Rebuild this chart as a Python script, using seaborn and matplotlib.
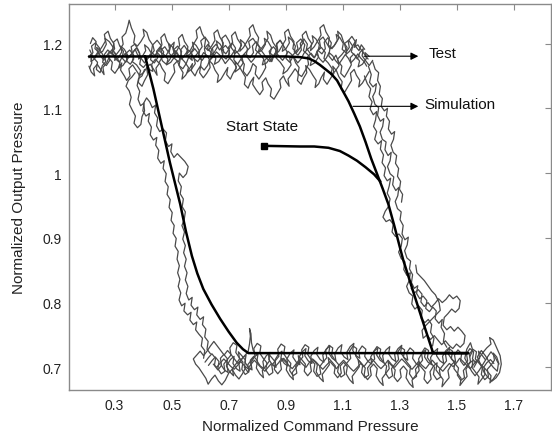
import matplotlib
matplotlib.use("Agg")
import matplotlib.pyplot as plt
import seaborn as sns
import pandas as pd

# ---------------- data ----------------
# Simulation loop (black curve): upper flat -> right branch -> bottom flat -> left branch
sim_x = [0.21, 0.90, 0.95, 0.98, 1.00, 1.02, 1.04, 1.06, 1.08, 1.10, 1.12, 1.14, 1.16, 1.18,
         1.20, 1.22, 1.24, 1.26, 1.28, 1.30, 1.312, 1.35, 1.38, 1.40, 1.417, 1.54,
         0.769, 0.75, 0.728, 0.70, 0.67, 0.64, 0.611, 0.59, 0.571, 0.55, 0.53, 0.494,
         0.465, 0.436, 0.407]
sim_y = [1.180, 1.180, 1.179, 1.177, 1.173, 1.167, 1.160, 1.153, 1.143, 1.127, 1.111, 1.092,
         1.072, 1.048, 1.022, 0.999, 0.976, 0.952, 0.920, 0.886, 0.866, 0.813, 0.772, 0.745,
         0.722, 0.722, 0.722, 0.728, 0.738, 0.755, 0.775, 0.797, 0.821, 0.845, 0.872, 0.910,
         0.952, 1.016, 1.073, 1.130, 1.180]

# Start-state curve
start_x = [0.824, 0.95, 1.00, 1.05, 1.09, 1.12, 1.15, 1.18, 1.21, 1.232]
start_y = [1.042, 1.041, 1.041, 1.039, 1.034, 1.027, 1.019, 1.009, 0.998, 0.987]

# Test traces (grey), (x, y) pairs
test_ua = [(0.210,1.178),(0.224,1.186),(0.219,1.196),(0.233,1.201),(0.247,1.193),(0.243,1.184),(0.258,1.188),(0.271,1.199),(0.266,1.208),(0.281,1.203),(0.295,1.194),(0.290,1.186),(0.305,1.179),(0.319,1.171),(0.314,1.162),(0.329,1.166),(0.343,1.175),(0.338,1.184),(0.353,1.190),(0.367,1.182),(0.362,1.172),(0.377,1.167),(0.391,1.158),(0.386,1.150),(0.401,1.155),(0.415,1.164),(0.410,1.174),(0.425,1.181),(0.439,1.189),(0.434,1.198),(0.449,1.205),(0.463,1.197),(0.458,1.188),(0.473,1.183),(0.487,1.176),(0.482,1.167),(0.497,1.171),(0.511,1.180),(0.506,1.190),(0.521,1.196),(0.535,1.188),(0.530,1.179),(0.545,1.172),(0.559,1.163),(0.554,1.155),(0.569,1.160),(0.583,1.169),(0.578,1.178),(0.593,1.186),(0.607,1.195),(0.602,1.204),(0.617,1.210),(0.631,1.201),(0.626,1.192),(0.641,1.185),(0.655,1.177),(0.650,1.168),(0.665,1.172),(0.679,1.182),(0.674,1.191),(0.689,1.197),(0.703,1.189),(0.698,1.180),(0.713,1.173),(0.727,1.164),(0.722,1.156),(0.737,1.161),(0.751,1.170),(0.746,1.180),(0.761,1.187),(0.775,1.194),(0.770,1.203),(0.785,1.208),(0.799,1.199),(0.794,1.190),(0.809,1.184),(0.823,1.176),(0.818,1.167),(0.833,1.170),(0.847,1.179),(0.842,1.188),(0.857,1.195),(0.871,1.187),(0.866,1.178),(0.881,1.171),(0.895,1.162),(0.890,1.153),(0.905,1.158),(0.919,1.167),(0.914,1.177),(0.929,1.184),(0.943,1.192),(0.938,1.201),(0.953,1.207),(0.967,1.198),(0.962,1.189),(0.977,1.183),(0.991,1.175),(0.986,1.166),(1.001,1.170),(1.015,1.179),(1.010,1.188),(1.025,1.194),(1.039,1.186),(1.034,1.177),(1.049,1.170),(1.063,1.161),(1.058,1.152),(1.073,1.157),(1.087,1.166),(1.082,1.176),(1.097,1.183),(1.111,1.191),(1.106,1.200),(1.121,1.205),(1.135,1.196),(1.130,1.187),(1.145,1.181),(1.159,1.173),(1.154,1.164),(1.169,1.168),(1.183,1.177),(1.178,1.186),(1.193,1.180)]
test_ub = [(0.212,1.162),(0.220,1.170),(0.216,1.181),(0.228,1.177),(0.240,1.171),(0.236,1.160),(0.249,1.155),(0.257,1.166),(0.269,1.172),(0.264,1.183),(0.276,1.190),(0.289,1.184),(0.300,1.192),(0.296,1.202),(0.309,1.207),(0.318,1.196),(0.331,1.188),(0.326,1.178),(0.339,1.171),(0.350,1.180),(0.362,1.185),(0.358,1.195),(0.371,1.199),(0.383,1.190),(0.392,1.178),(0.388,1.168),(0.401,1.163),(0.414,1.170),(0.421,1.160),(0.434,1.157),(0.430,1.168),(0.443,1.176),(0.455,1.170),(0.467,1.179),(0.463,1.190),(0.476,1.195),(0.488,1.187),(0.497,1.196),(0.509,1.202),(0.505,1.191),(0.518,1.184),(0.530,1.176),(0.526,1.166),(0.539,1.161),(0.551,1.169),(0.560,1.179),(0.572,1.174),(0.568,1.185),(0.581,1.192),(0.593,1.185),(0.605,1.175),(0.601,1.165),(0.614,1.159),(0.626,1.166),(0.635,1.176),(0.647,1.182),(0.643,1.193),(0.656,1.199),(0.668,1.190),(0.680,1.197),(0.676,1.208),(0.689,1.213),(0.701,1.204),(0.710,1.193),(0.722,1.186),(0.718,1.175),(0.731,1.168),(0.743,1.176),(0.755,1.168),(0.751,1.157),(0.764,1.150),(0.776,1.158),(0.785,1.169),(0.797,1.164),(0.793,1.153),(0.806,1.145),(0.818,1.153),(0.830,1.163),(0.826,1.174),(0.839,1.180),(0.851,1.172),(0.860,1.183),(0.872,1.190),(0.868,1.200),(0.881,1.205),(0.893,1.196),(0.905,1.187),(0.901,1.177),(0.914,1.171),(0.926,1.180),(0.935,1.170),(0.947,1.163),(0.943,1.153),(0.956,1.149),(0.968,1.158),(0.980,1.168),(0.976,1.179),(0.989,1.185),(1.001,1.178),(1.010,1.188),(1.022,1.195),(1.018,1.205),(1.031,1.210),(1.043,1.201),(1.055,1.192),(1.051,1.181),(1.064,1.174),(1.076,1.182),(1.085,1.172),(1.097,1.165),(1.093,1.154),(1.106,1.148),(1.118,1.157),(1.130,1.167),(1.126,1.178),(1.139,1.184),(1.151,1.176),(1.160,1.186),(1.172,1.192),(1.168,1.181),(1.181,1.173),(1.193,1.166),(1.205,1.174)]
test_uc = [(0.215,1.200),(0.223,1.209),(0.235,1.203),(0.231,1.192),(0.244,1.187),(0.256,1.195),(0.268,1.204),(0.264,1.214),(0.277,1.219),(0.285,1.208),(0.297,1.200),(0.293,1.189),(0.306,1.183),(0.318,1.190),(0.330,1.199),(0.326,1.210),(0.339,1.216),(0.347,1.228),(0.351,1.236),(0.359,1.224),(0.371,1.212),(0.367,1.201),(0.380,1.196),(0.392,1.203),(0.404,1.212),(0.400,1.222),(0.413,1.217),(0.421,1.206),(0.433,1.198),(0.429,1.187),(0.442,1.181),(0.454,1.189),(0.466,1.198),(0.462,1.209),(0.475,1.215),(0.483,1.204),(0.495,1.196),(0.491,1.185),(0.504,1.179),(0.516,1.187),(0.528,1.197),(0.524,1.208),(0.537,1.214),(0.545,1.203),(0.557,1.195),(0.553,1.184),(0.566,1.190),(0.578,1.200),(0.590,1.209),(0.586,1.220),(0.599,1.226),(0.607,1.215),(0.619,1.206),(0.615,1.195),(0.628,1.189),(0.640,1.196),(0.652,1.205),(0.648,1.216),(0.661,1.221),(0.669,1.210),(0.681,1.201),(0.677,1.190),(0.690,1.184),(0.702,1.192),(0.714,1.201),(0.710,1.212),(0.723,1.218),(0.731,1.207),(0.743,1.199),(0.739,1.188),(0.752,1.194),(0.764,1.203),(0.776,1.212),(0.772,1.223),(0.785,1.229),(0.793,1.218),(0.805,1.209),(0.801,1.198),(0.814,1.192),(0.826,1.199),(0.838,1.208),(0.834,1.219),(0.847,1.213),(0.855,1.202),(0.867,1.194),(0.863,1.183),(0.876,1.188),(0.888,1.197),(0.900,1.206),(0.896,1.217),(0.909,1.222),(0.917,1.211),(0.929,1.203),(0.925,1.192),(0.938,1.186),(0.950,1.193),(0.962,1.202),(0.958,1.213),(0.971,1.219),(0.979,1.208),(0.991,1.200),(0.987,1.189),(1.000,1.195),(1.012,1.204),(1.024,1.213),(1.020,1.224),(1.033,1.229),(1.041,1.218),(1.053,1.209),(1.049,1.198),(1.062,1.192),(1.074,1.199),(1.086,1.208),(1.082,1.219),(1.095,1.213),(1.103,1.202),(1.115,1.194),(1.111,1.183),(1.124,1.188),(1.136,1.197),(1.148,1.206),(1.144,1.196),(1.157,1.189),(1.165,1.198),(1.177,1.191)]
test_ud = [(0.210,1.165),(0.218,1.156),(0.230,1.150),(0.226,1.161),(0.239,1.168),(0.251,1.160),(0.263,1.152),(0.259,1.163),(0.272,1.170),(0.280,1.178),(0.292,1.171),(0.288,1.160),(0.301,1.154),(0.313,1.162),(0.325,1.170),(0.321,1.159),(0.334,1.150),(0.342,1.143),(0.354,1.150),(0.350,1.161),(0.363,1.167),(0.375,1.159),(0.387,1.151),(0.383,1.140),(0.396,1.134),(0.404,1.142),(0.416,1.152),(0.412,1.163),(0.425,1.168),(0.437,1.160),(0.449,1.151),(0.445,1.162),(0.458,1.170),(0.466,1.162),(0.478,1.154),(0.474,1.143),(0.487,1.138),(0.499,1.147),(0.511,1.156),(0.507,1.167),(0.520,1.173),(0.528,1.164),(0.540,1.155),(0.536,1.145),(0.549,1.151),(0.561,1.160),(0.573,1.169),(0.569,1.158),(0.582,1.150),(0.590,1.158),(0.602,1.166),(0.598,1.155),(0.611,1.147),(0.623,1.154),(0.635,1.163),(0.631,1.174),(0.644,1.168),(0.652,1.159),(0.664,1.151),(0.660,1.140),(0.673,1.145),(0.685,1.154),(0.697,1.163),(0.693,1.152),(0.706,1.145),(0.714,1.153),(0.726,1.162),(0.722,1.172),(0.735,1.166),(0.747,1.157),(0.759,1.148),(0.755,1.137),(0.768,1.131),(0.776,1.140),(0.788,1.148),(0.784,1.137),(0.797,1.128),(0.809,1.121),(0.821,1.129),(0.817,1.140),(0.830,1.147),(0.838,1.138),(0.850,1.130),(0.846,1.119),(0.859,1.114),(0.871,1.123),(0.883,1.132),(0.879,1.143),(0.892,1.150),(0.900,1.142),(0.912,1.134),(0.908,1.145),(0.921,1.153),(0.933,1.161),(0.945,1.154),(0.941,1.143),(0.954,1.137),(0.962,1.146),(0.974,1.155),(0.970,1.166),(0.983,1.160),(0.995,1.151),(1.007,1.143),(1.003,1.132),(1.016,1.138),(1.024,1.147),(1.036,1.156),(1.032,1.145),(1.045,1.137),(1.057,1.146),(1.069,1.154),(1.065,1.165),(1.078,1.158),(1.086,1.149),(1.098,1.141),(1.094,1.130),(1.107,1.125),(1.119,1.134),(1.131,1.143),(1.127,1.154),(1.140,1.160),(1.148,1.151),(1.160,1.143),(1.156,1.133),(1.169,1.139),(1.181,1.148),(1.193,1.157)]
test_ue = [(0.213,1.190),(0.221,1.182),(0.217,1.172),(0.229,1.176),(0.241,1.185),(0.237,1.194),(0.250,1.189),(0.262,1.180),(0.258,1.171),(0.271,1.166),(0.283,1.174),(0.279,1.184),(0.292,1.191),(0.304,1.183),(0.300,1.174),(0.313,1.178),(0.325,1.187),(0.321,1.196),(0.334,1.191),(0.346,1.182),(0.342,1.173),(0.355,1.168),(0.367,1.176),(0.363,1.186),(0.376,1.193),(0.388,1.185),(0.384,1.176),(0.397,1.180),(0.409,1.189),(0.405,1.198),(0.418,1.193),(0.430,1.184),(0.426,1.175),(0.439,1.170),(0.451,1.178),(0.447,1.188),(0.460,1.195),(0.472,1.187),(0.468,1.178),(0.481,1.182),(0.493,1.191),(0.489,1.200),(0.502,1.195),(0.514,1.186),(0.510,1.177),(0.523,1.172),(0.535,1.180),(0.531,1.190),(0.544,1.197),(0.556,1.189),(0.552,1.180),(0.565,1.184),(0.577,1.193),(0.573,1.202),(0.586,1.197),(0.598,1.188),(0.594,1.179),(0.607,1.174),(0.619,1.182),(0.615,1.192),(0.628,1.199),(0.640,1.191),(0.636,1.182),(0.649,1.186),(0.661,1.195),(0.657,1.204),(0.670,1.199),(0.682,1.190),(0.678,1.181),(0.691,1.176),(0.703,1.184),(0.699,1.194),(0.712,1.201),(0.724,1.193),(0.720,1.184),(0.733,1.188),(0.745,1.197),(0.741,1.206),(0.754,1.201),(0.766,1.192),(0.762,1.183),(0.775,1.178),(0.787,1.186),(0.783,1.196),(0.796,1.203),(0.808,1.195),(0.804,1.186),(0.817,1.190),(0.829,1.199),(0.825,1.208),(0.838,1.203),(0.850,1.194),(0.846,1.185),(0.859,1.180),(0.871,1.188),(0.867,1.198),(0.880,1.205),(0.892,1.197),(0.888,1.188),(0.901,1.192),(0.913,1.201),(0.909,1.210),(0.922,1.205),(0.934,1.196),(0.930,1.187),(0.943,1.182),(0.955,1.190),(0.951,1.200),(0.964,1.207),(0.976,1.199),(0.972,1.190),(0.985,1.194),(0.997,1.203),(0.993,1.212),(1.006,1.207),(1.018,1.198),(1.014,1.189),(1.027,1.184),(1.039,1.192),(1.035,1.202),(1.048,1.209),(1.060,1.201),(1.056,1.192),(1.069,1.196),(1.081,1.205),(1.077,1.214),(1.090,1.209),(1.102,1.200),(1.098,1.191),(1.111,1.186),(1.123,1.194),(1.119,1.204),(1.132,1.211),(1.144,1.203),(1.140,1.194),(1.153,1.198),(1.165,1.190),(1.177,1.183),(1.189,1.176)]
test_uf = [(0.215,1.183),(0.228,1.178),(0.240,1.186),(0.251,1.181),(0.262,1.174),(0.270,1.180),(0.283,1.188),(0.295,1.182),(0.304,1.176),(0.317,1.171),(0.326,1.179),(0.338,1.185),(0.349,1.178),(0.361,1.184),(0.372,1.191),(0.380,1.183),(0.393,1.177),(0.405,1.170),(0.414,1.176),(0.426,1.184),(0.437,1.179),(0.449,1.186),(0.460,1.181),(0.468,1.173),(0.481,1.168),(0.493,1.175),(0.502,1.183),(0.515,1.189),(0.524,1.182),(0.536,1.176),(0.547,1.183),(0.559,1.190),(0.570,1.185),(0.578,1.177),(0.591,1.172),(0.603,1.179),(0.612,1.186),(0.625,1.181),(0.634,1.174),(0.646,1.180),(0.657,1.187),(0.669,1.182),(0.680,1.175),(0.688,1.169),(0.701,1.176),(0.713,1.184),(0.722,1.190),(0.735,1.184),(0.744,1.177),(0.756,1.183),(0.767,1.178),(0.779,1.171),(0.790,1.177),(0.798,1.185),(0.811,1.191),(0.823,1.184),(0.832,1.178),(0.845,1.172),(0.854,1.179),(0.866,1.186),(0.877,1.180),(0.889,1.174),(0.900,1.181),(0.908,1.188),(0.921,1.183),(0.933,1.176),(0.942,1.170),(0.955,1.177),(0.964,1.185),(0.976,1.191),(0.987,1.184),(0.999,1.178),(1.010,1.184),(1.018,1.177),(1.031,1.171),(1.043,1.178),(1.052,1.186),(1.065,1.181),(1.074,1.174),(1.086,1.168),(1.097,1.175),(1.109,1.183),(1.120,1.177),(1.128,1.170),(1.141,1.176),(1.153,1.184),(1.162,1.178),(1.175,1.172),(1.184,1.165)]

test_r1 = [(1.190,1.165),(1.200,1.152),(1.194,1.140),(1.206,1.133),(1.218,1.138),(1.214,1.126),(1.205,1.118),(1.213,1.106),(1.226,1.101),(1.222,1.089),(1.232,1.080),(1.244,1.084),(1.240,1.072),(1.231,1.063),(1.239,1.052),(1.252,1.048),(1.248,1.036),(1.259,1.027),(1.270,1.032),(1.266,1.019),(1.257,1.010),(1.266,0.999),(1.279,0.994),(1.275,0.982),(1.286,0.973),(1.297,0.978),(1.293,0.965),(1.284,0.956),(1.292,0.945),(1.305,0.940),(1.301,0.928),(1.312,0.919),(1.308,0.906),(1.318,0.897),(1.330,0.901),(1.326,0.889),(1.317,0.880),(1.325,0.869),(1.338,0.864),(1.334,0.852),(1.345,0.843),(1.341,0.831),(1.351,0.822),(1.363,0.826),(1.359,0.814),(1.370,0.806),(1.382,0.810),(1.395,0.803),(1.391,0.791),(1.404,0.786),(1.416,0.793),(1.428,0.787),(1.424,0.775),(1.437,0.768),(1.449,0.774),(1.445,0.762),(1.457,0.752),(1.453,0.740),(1.465,0.731)]
test_r2 = [(1.176,1.150),(1.186,1.138),(1.198,1.130),(1.192,1.118),(1.203,1.110),(1.196,1.099),(1.207,1.090),(1.219,1.095),(1.215,1.082),(1.208,1.072),(1.219,1.064),(1.212,1.052),(1.224,1.045),(1.236,1.050),(1.232,1.037),(1.243,1.028),(1.238,1.016),(1.250,1.008),(1.245,0.996),(1.256,0.988),(1.268,0.992),(1.263,0.980),(1.256,0.969),(1.266,0.960),(1.260,0.948),(1.249,0.941),(1.241,0.932),(1.252,0.925),(1.265,0.928),(1.277,0.921),(1.273,0.909),(1.285,0.902),(1.297,0.906),(1.309,0.899),(1.305,0.887),(1.296,0.878),(1.305,0.868),(1.318,0.863),(1.314,0.851),(1.325,0.842),(1.337,0.846),(1.333,0.834),(1.324,0.825),(1.333,0.815),(1.346,0.810),(1.342,0.798),(1.353,0.790),(1.366,0.795),(1.379,0.788),(1.375,0.776),(1.388,0.769),(1.400,0.774),(1.412,0.766),(1.408,0.754),(1.420,0.745),(1.415,0.733)]
test_r3 = [(1.340,0.822),(1.352,0.815),(1.365,0.820),(1.378,0.813),(1.374,0.801),(1.386,0.794),(1.399,0.800),(1.411,0.793),(1.424,0.799),(1.436,0.806),(1.449,0.800),(1.462,0.805),(1.474,0.812),(1.487,0.806),(1.500,0.810),(1.512,0.803),(1.508,0.791),(1.495,0.785),(1.482,0.790),(1.469,0.783),(1.456,0.777),(1.452,0.765),(1.465,0.758),(1.478,0.763),(1.491,0.756),(1.504,0.762),(1.517,0.756),(1.529,0.749),(1.525,0.737),(1.512,0.731),(1.499,0.736),(1.486,0.729),(1.473,0.734),(1.460,0.741),(1.447,0.735),(1.434,0.742),(1.421,0.749),(1.408,0.743),(1.395,0.750),(1.382,0.745),(1.378,0.757),(1.390,0.764),(1.403,0.770),(1.416,0.776),(1.429,0.782),(1.442,0.788),(1.438,0.800),(1.425,0.812),(1.412,0.818),(1.399,0.826),(1.386,0.834),(1.373,0.840),(1.360,0.846),(1.356,0.858)]
test_r4 = [(1.205,1.172),(1.214,1.160),(1.226,1.155),(1.222,1.143),(1.232,1.134),(1.228,1.122),(1.239,1.115),(1.235,1.103),(1.246,1.096),(1.257,1.100),(1.253,1.088),(1.264,1.080),(1.260,1.068),(1.271,1.060),(1.282,1.064),(1.278,1.052),(1.269,1.043),(1.277,1.032),(1.289,1.027),(1.285,1.015),(1.296,1.007),(1.292,0.995),(1.303,0.987),(1.299,0.975),(1.310,0.967),(1.306,0.955)]

test_l1 = [(0.405,1.160),(0.396,1.150),(0.384,1.146),(0.379,1.135),(0.388,1.126),(0.382,1.114),(0.391,1.104),(0.403,1.108),(0.399,1.096),(0.410,1.088),(0.422,1.092),(0.418,1.080),(0.429,1.071),(0.425,1.059),(0.436,1.051),(0.448,1.055),(0.444,1.043),(0.455,1.035),(0.451,1.023),(0.462,1.015),(0.474,1.019),(0.470,1.007),(0.481,0.999),(0.477,0.987),(0.488,0.979),(0.484,0.967),(0.495,0.959),(0.491,0.947),(0.502,0.939),(0.498,0.927),(0.509,0.919),(0.505,0.907),(0.516,0.899),(0.512,0.887),(0.523,0.879),(0.519,0.867),(0.527,0.857),(0.521,0.846),(0.529,0.836),(0.523,0.825),(0.532,0.815),(0.526,0.804),(0.535,0.795),(0.547,0.799),(0.543,0.787),(0.556,0.781),(0.568,0.785),(0.564,0.773),(0.576,0.766),(0.588,0.770),(0.584,0.758),(0.596,0.751),(0.608,0.745),(0.604,0.733),(0.616,0.726),(0.612,0.714)]
test_l2 = [(0.372,1.155),(0.360,1.148),(0.348,1.143),(0.340,1.134),(0.351,1.127),(0.358,1.117),(0.352,1.106),(0.362,1.097),(0.373,1.088),(0.368,1.077),(0.380,1.070),(0.392,1.075),(0.396,1.087),(0.405,1.096),(0.402,1.108),(0.412,1.116),(0.423,1.110),(0.432,1.101),(0.444,1.105),(0.440,1.093),(0.451,1.085),(0.447,1.073),(0.458,1.064),(0.470,1.068),(0.482,1.062),(0.478,1.050),(0.489,1.041),(0.501,1.045),(0.497,1.033),(0.508,1.024),(0.520,1.030),(0.533,1.024),(0.546,1.018),(0.558,1.010),(0.552,0.999),(0.540,0.993),(0.527,1.000),(0.523,0.988),(0.534,0.979),(0.530,0.968),(0.541,0.960),(0.537,0.948),(0.548,0.940),(0.544,0.928),(0.536,0.919),(0.545,0.909),(0.539,0.898),(0.548,0.888),(0.542,0.877),(0.551,0.867),(0.545,0.856),(0.554,0.846),(0.548,0.835),(0.557,0.825),(0.551,0.814),(0.560,0.804),(0.572,0.808),(0.568,0.796),(0.580,0.789),(0.592,0.793),(0.588,0.781),(0.600,0.774),(0.612,0.778),(0.608,0.766),(0.620,0.759),(0.616,0.747),(0.628,0.740),(0.624,0.728),(0.636,0.721)]

test_ba = [(1.648,0.705),(1.640,0.716),(1.628,0.722),(1.632,0.711),(1.619,0.703),(1.607,0.697),(1.611,0.686),(1.598,0.681),(1.586,0.689),(1.590,0.700),(1.577,0.707),(1.565,0.713),(1.569,0.724),(1.556,0.728),(1.544,0.720),(1.548,0.709),(1.535,0.702),(1.523,0.695),(1.527,0.684),(1.514,0.680),(1.502,0.688),(1.506,0.699),(1.493,0.706),(1.481,0.714),(1.485,0.725),(1.472,0.729),(1.460,0.721),(1.464,0.710),(1.451,0.703),(1.439,0.696),(1.443,0.685),(1.430,0.681),(1.418,0.689),(1.422,0.700),(1.409,0.707),(1.397,0.715),(1.401,0.726),(1.388,0.730),(1.376,0.722),(1.380,0.711),(1.367,0.704),(1.355,0.697),(1.359,0.686),(1.346,0.682),(1.334,0.690),(1.338,0.701),(1.325,0.708),(1.313,0.716),(1.317,0.727),(1.304,0.731),(1.292,0.723),(1.296,0.712),(1.283,0.705),(1.271,0.698),(1.275,0.687),(1.262,0.683),(1.250,0.691),(1.254,0.702),(1.241,0.709),(1.229,0.717),(1.233,0.728),(1.220,0.732),(1.208,0.724),(1.212,0.713),(1.199,0.706),(1.187,0.699),(1.191,0.688),(1.178,0.684),(1.166,0.692),(1.170,0.703),(1.157,0.710),(1.145,0.718),(1.149,0.729),(1.136,0.733),(1.124,0.725),(1.128,0.714),(1.115,0.707),(1.103,0.700),(1.107,0.689),(1.094,0.685),(1.082,0.693),(1.086,0.704),(1.073,0.711),(1.061,0.719),(1.065,0.730),(1.052,0.734),(1.040,0.726),(1.044,0.715),(1.031,0.708),(1.019,0.701),(1.023,0.690),(1.010,0.686),(0.998,0.694),(1.002,0.705),(0.989,0.712),(0.977,0.720),(0.981,0.731),(0.968,0.735),(0.956,0.727),(0.960,0.716),(0.947,0.709),(0.935,0.702),(0.939,0.691),(0.926,0.687),(0.914,0.695),(0.918,0.706),(0.905,0.713),(0.893,0.721),(0.897,0.732),(0.884,0.736),(0.872,0.728),(0.876,0.717),(0.863,0.710),(0.851,0.703),(0.855,0.692),(0.842,0.688),(0.830,0.696),(0.834,0.707),(0.821,0.714),(0.809,0.722),(0.813,0.733),(0.800,0.737),(0.788,0.729),(0.792,0.718),(0.779,0.711),(0.767,0.704),(0.771,0.693),(0.758,0.689),(0.746,0.697),(0.750,0.708),(0.737,0.715),(0.725,0.723),(0.729,0.734),(0.716,0.738),(0.704,0.730),(0.708,0.719),(0.695,0.712),(0.683,0.705),(0.687,0.694),(0.674,0.690),(0.662,0.698),(0.666,0.709),(0.653,0.716),(0.641,0.710),(0.629,0.703)]
test_bb = [(1.640,0.690),(1.628,0.682),(1.616,0.676),(1.620,0.687),(1.607,0.694),(1.595,0.700),(1.599,0.689),(1.586,0.681),(1.574,0.674),(1.578,0.685),(1.565,0.693),(1.553,0.700),(1.557,0.711),(1.544,0.706),(1.532,0.697),(1.536,0.686),(1.523,0.679),(1.511,0.672),(1.515,0.683),(1.502,0.691),(1.490,0.698),(1.494,0.709),(1.481,0.704),(1.469,0.695),(1.473,0.684),(1.460,0.677),(1.448,0.670),(1.452,0.681),(1.439,0.689),(1.427,0.696),(1.431,0.707),(1.418,0.702),(1.406,0.693),(1.410,0.682),(1.397,0.675),(1.385,0.682),(1.389,0.693),(1.376,0.700),(1.364,0.706),(1.368,0.695),(1.355,0.687),(1.343,0.680),(1.347,0.669),(1.334,0.675),(1.322,0.684),(1.326,0.695),(1.313,0.702),(1.301,0.696),(1.305,0.685),(1.292,0.678),(1.280,0.685),(1.284,0.696),(1.271,0.703),(1.259,0.709),(1.263,0.698),(1.250,0.690),(1.238,0.683),(1.242,0.672),(1.229,0.678),(1.217,0.687),(1.221,0.698),(1.208,0.705),(1.196,0.699),(1.200,0.688),(1.187,0.681),(1.175,0.688),(1.179,0.699),(1.166,0.706),(1.154,0.712),(1.158,0.701),(1.145,0.693),(1.133,0.686),(1.137,0.675),(1.124,0.681),(1.112,0.690),(1.116,0.701),(1.103,0.708),(1.091,0.702),(1.095,0.691),(1.082,0.684),(1.070,0.691),(1.074,0.702),(1.061,0.709),(1.049,0.715),(1.053,0.704),(1.040,0.696),(1.028,0.689),(1.032,0.678),(1.019,0.684),(1.007,0.693),(1.011,0.704),(0.998,0.711),(0.986,0.705),(0.990,0.694),(0.977,0.687),(0.965,0.694),(0.969,0.705),(0.956,0.712),(0.944,0.718),(0.948,0.707),(0.935,0.699),(0.923,0.692),(0.927,0.681),(0.914,0.687),(0.902,0.696),(0.906,0.707),(0.893,0.714),(0.881,0.708),(0.885,0.697),(0.872,0.690),(0.860,0.697),(0.864,0.708),(0.851,0.715),(0.839,0.721),(0.843,0.710),(0.830,0.702),(0.818,0.695),(0.822,0.684),(0.809,0.690),(0.797,0.699),(0.801,0.710),(0.788,0.717),(0.776,0.711),(0.780,0.700),(0.767,0.693),(0.755,0.700),(0.759,0.711),(0.746,0.718),(0.734,0.724),(0.738,0.713),(0.725,0.705),(0.713,0.698),(0.717,0.687),(0.704,0.693),(0.692,0.702),(0.696,0.713),(0.683,0.720),(0.671,0.714),(0.675,0.703),(0.662,0.696),(0.650,0.703),(0.654,0.714),(0.641,0.721),(0.629,0.715),(0.617,0.708)]
test_bc = [(1.600,0.712),(1.588,0.719),(1.576,0.725),(1.580,0.714),(1.567,0.707),(1.555,0.713),(1.559,0.724),(1.546,0.729),(1.534,0.721),(1.538,0.710),(1.525,0.703),(1.513,0.710),(1.517,0.721),(1.504,0.727),(1.492,0.719),(1.496,0.708),(1.483,0.712),(1.471,0.720),(1.475,0.731),(1.462,0.726),(1.450,0.717),(1.454,0.706),(1.441,0.710),(1.429,0.718),(1.433,0.729),(1.420,0.724),(1.408,0.715),(1.412,0.704),(1.399,0.708),(1.387,0.716),(1.391,0.727),(1.378,0.722),(1.366,0.713),(1.370,0.702),(1.357,0.706),(1.345,0.714),(1.349,0.725),(1.336,0.730),(1.324,0.722),(1.328,0.711),(1.315,0.715),(1.303,0.723),(1.307,0.734),(1.294,0.729),(1.282,0.720),(1.286,0.709),(1.273,0.713),(1.261,0.721),(1.265,0.732),(1.252,0.727),(1.240,0.718),(1.244,0.707),(1.231,0.711),(1.219,0.719),(1.223,0.730),(1.210,0.725),(1.198,0.716),(1.202,0.705),(1.189,0.709),(1.177,0.717),(1.181,0.728),(1.168,0.733),(1.156,0.725),(1.160,0.714),(1.147,0.718),(1.135,0.726),(1.139,0.737),(1.126,0.732),(1.114,0.723),(1.118,0.712),(1.105,0.716),(1.093,0.724),(1.097,0.735),(1.084,0.730),(1.072,0.721),(1.076,0.710),(1.063,0.714),(1.051,0.722),(1.055,0.733),(1.042,0.728),(1.030,0.719),(1.034,0.708),(1.021,0.712),(1.009,0.720),(1.013,0.731),(1.000,0.726),(0.988,0.717),(0.992,0.706),(0.979,0.710),(0.967,0.718),(0.971,0.729),(0.958,0.724),(0.946,0.715),(0.950,0.704),(0.937,0.708),(0.925,0.716),(0.929,0.727),(0.916,0.722),(0.904,0.713),(0.908,0.702),(0.895,0.706),(0.883,0.714),(0.887,0.725),(0.874,0.720),(0.862,0.711),(0.866,0.700),(0.853,0.704),(0.841,0.712),(0.845,0.723),(0.832,0.718),(0.820,0.709),(0.824,0.698),(0.811,0.702),(0.799,0.710),(0.803,0.721),(0.790,0.716),(0.778,0.707),(0.782,0.696),(0.769,0.700),(0.757,0.708),(0.761,0.719),(0.748,0.714),(0.736,0.705),(0.740,0.694),(0.727,0.698),(0.715,0.706),(0.719,0.717),(0.706,0.712),(0.694,0.703),(0.698,0.692),(0.685,0.696),(0.673,0.704)]
test_bd = [(1.560,0.700),(1.575,0.712),(1.590,0.722),(1.605,0.730),(1.620,0.736),(1.615,0.746),(1.628,0.742),(1.640,0.730),(1.652,0.718),(1.656,0.705),(1.650,0.692),(1.638,0.684),(1.624,0.679),(1.610,0.684),(1.596,0.692),(1.584,0.704),(1.572,0.716),(1.586,0.726),(1.600,0.718),(1.614,0.708),(1.628,0.700),(1.642,0.694),(1.646,0.706),(1.634,0.716),(1.620,0.724),(1.606,0.715),(1.592,0.705),(1.578,0.695),(1.564,0.687),(1.552,0.694),(1.540,0.704),(1.528,0.714),(1.535,0.728),(1.548,0.738),(1.556,0.726),(1.545,0.716)]
test_be = [(0.760,0.700),(0.748,0.690),(0.736,0.682),(0.724,0.688),(0.712,0.697),(0.700,0.691),(0.688,0.680),(0.676,0.673),(0.664,0.679),(0.652,0.688),(0.640,0.682),(0.628,0.674),(0.620,0.683),(0.608,0.691),(0.596,0.699),(0.584,0.705),(0.576,0.713),(0.588,0.719),(0.600,0.725),(0.612,0.718),(0.624,0.725),(0.636,0.733),(0.648,0.740),(0.660,0.733),(0.672,0.726),(0.684,0.719),(0.696,0.726),(0.708,0.720),(0.720,0.713),(0.732,0.706),(0.744,0.712),(0.756,0.718),(0.768,0.724),(0.773,0.736),(0.776,0.748),(0.773,0.760),(0.778,0.752),(0.780,0.738),(0.786,0.726),(0.798,0.719)]
test_bf = [(1.630,0.706),(1.618,0.712),(1.605,0.707),(1.594,0.700),(1.583,0.705),(1.570,0.711),(1.558,0.704),(1.547,0.698),(1.535,0.703),(1.522,0.709),(1.510,0.714),(1.499,0.707),(1.487,0.701),(1.474,0.706),(1.462,0.700),(1.451,0.694),(1.439,0.699),(1.426,0.705),(1.414,0.711),(1.403,0.705),(1.391,0.698),(1.378,0.703),(1.366,0.709),(1.355,0.703),(1.343,0.697),(1.330,0.702),(1.318,0.708),(1.307,0.713),(1.295,0.707),(1.282,0.700),(1.270,0.705),(1.259,0.711),(1.247,0.704),(1.234,0.698),(1.222,0.703),(1.211,0.709),(1.199,0.714),(1.186,0.708),(1.174,0.701),(1.163,0.706),(1.151,0.700),(1.138,0.694),(1.126,0.699),(1.115,0.705),(1.103,0.711),(1.090,0.705),(1.078,0.698),(1.067,0.703),(1.055,0.709),(1.042,0.703),(1.030,0.697),(1.019,0.702),(1.007,0.708),(0.994,0.713),(0.982,0.707),(0.971,0.700),(0.959,0.705),(0.946,0.711),(0.934,0.704),(0.923,0.698),(0.911,0.703),(0.898,0.709),(0.886,0.714),(0.875,0.707),(0.863,0.701),(0.850,0.706),(0.838,0.700),(0.827,0.694),(0.815,0.699),(0.802,0.705),(0.790,0.711),(0.779,0.705),(0.767,0.698),(0.754,0.703),(0.742,0.709),(0.731,0.703),(0.719,0.697),(0.706,0.702),(0.694,0.708),(0.683,0.713),(0.671,0.707),(0.658,0.700),(0.646,0.705)]

x_ticks = [0.3, 0.5, 0.7, 0.9, 1.1, 1.3, 1.5, 1.7]
y_ticks = [0.7, 0.8, 0.9, 1.0, 1.1, 1.2]
y_tick_labels = ["0.7", "0.8", "0.9", "1", "1.1", "1.2"]

# ---------------- plotting ----------------
sns.set_style("white")
plt.rcParams["font.family"] = ["Liberation Sans", "DejaVu Sans"]

traces = {"ua": test_ua, "ub": test_ub, "uc": test_uc, "ud": test_ud, "ue": test_ue,
          "uf": test_uf,
          "r1": test_r1, "r2": test_r2, "r3": test_r3, "r4": test_r4,
          "l1": test_l1, "l2": test_l2,
          "ba": test_ba, "bb": test_bb, "bc": test_bc, "bd": test_bd, "be": test_be,
          "bf": test_bf}
rows = []
for name, pts in traces.items():
    for i, (px, py) in enumerate(pts):
        rows.append({"trace": name, "order": i, "x": px, "y": py})
test_df = pd.DataFrame(rows)
sim_df = pd.DataFrame({"x": sim_x, "y": sim_y})
start_df = pd.DataFrame({"x": start_x, "y": start_y})

fig = plt.figure(figsize=(5.52, 4.39), dpi=100)
ax = fig.add_axes([0.125, 0.1093, 0.873, 0.8793])

sns.lineplot(data=test_df, x="x", y="y", units="trace", estimator=None, sort=False,
             color="#4a4a4a", lw=0.9, ax=ax, legend=False)
sns.lineplot(data=sim_df, x="x", y="y", estimator=None, sort=False,
             color="black", lw=1.8, ax=ax, legend=False)
sns.lineplot(data=start_df, x="x", y="y", estimator=None, sort=False,
             color="black", lw=1.8, ax=ax, legend=False)
ax.plot(start_x[0], start_y[0], marker="s", ms=5, color="black")
for ln in ax.lines:
    ln.set_solid_joinstyle("round")

ax.set_xlim(0.14, 1.83)
ax.set_ylim(0.665, 1.261)
ax.set_xticks(x_ticks)
ax.set_xticklabels([f"{v:.1f}" for v in x_ticks])
ax.set_yticks(y_ticks)
ax.set_yticklabels(y_tick_labels)
ax.tick_params(direction="in", top=True, right=True, length=4, width=0.8,
               color="#8a8a8a", labelsize=10, labelcolor="#222222")
ax.tick_params(axis="x", pad=6)
ax.tick_params(axis="y", pad=5)
for sp in ax.spines.values():
    sp.set_color("#8a8a8a")
    sp.set_linewidth(1.0)

ax.set_xlabel("Normalized Command Pressure", fontsize=11, color="#222222", labelpad=5)
ax.set_ylabel("Normalized Output Pressure", fontsize=11, color="#222222", labelpad=12)

arrow_kw = dict(arrowstyle="-|>", color="black", lw=0.8, mutation_scale=11,
                shrinkA=0, shrinkB=0)
ax.annotate("", xy=(1.365, 1.1804), xytext=(1.175, 1.1804), arrowprops=arrow_kw)
ax.text(1.40, 1.186, "Test", fontsize=11, va="center", ha="left", color="#111111")
ax.annotate("", xy=(1.365, 1.103), xytext=(1.136, 1.103), arrowprops=arrow_kw)
ax.text(1.386, 1.106, "Simulation", fontsize=11, va="center", ha="left", color="#111111")
ax.text(0.691, 1.072, "Start State", fontsize=11, va="center", ha="left", color="#111111")

fig.savefig("out.png", dpi=100)
